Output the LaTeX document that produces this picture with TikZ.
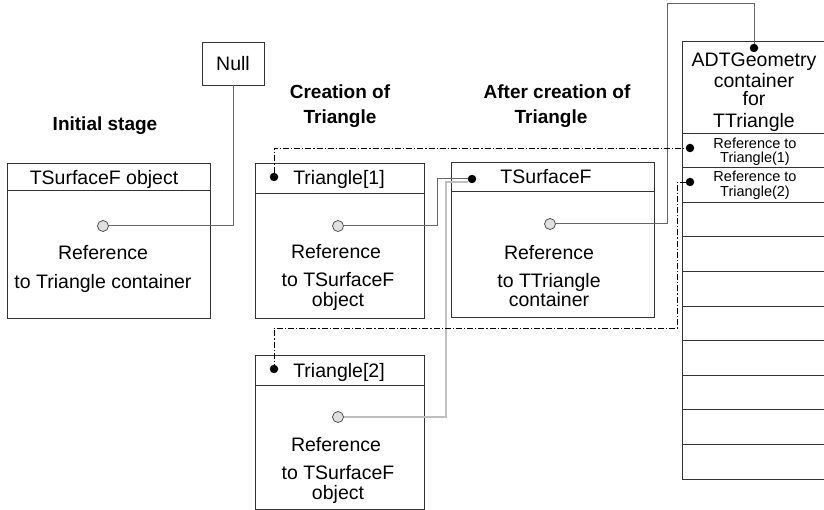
\documentclass[tikz,border=0pt]{standalone}
\usepackage{fontspec}
\setmainfont{Liberation Sans}
\usetikzlibrary{positioning}

\begin{document}
\begin{tikzpicture}[x=1pt,y=-1pt,
  bx/.style={draw=black!80,line width=0.9pt},
  tx/.style={font=\fontsize{19.5}{20}\selectfont,inner sep=0pt,anchor=base},
  hd/.style={font=\bfseries\fontsize{19}{20}\selectfont,inner sep=0pt,anchor=base},
  sm/.style={font=\fontsize{14.5}{15}\selectfont,inner sep=0pt,anchor=base},
  rf/.style={circle,draw=black!75,fill=black!12,minimum size=11pt,inner sep=0pt,line width=0.7pt},
  pt/.style={circle,fill=black,minimum size=8.5pt,inner sep=0pt},
  ln/.style={draw=black!60,line width=1pt},
  dd/.style={draw=black,line width=0.8pt,dash pattern=on 6pt off 2pt on 1.2pt off 2pt}]
\useasboundingbox (0,0) rectangle (824,510);
\clip (0,0) rectangle (824,510);
% headings
\node[hd] (h0) at (105,131) {Initial stage};
\node[hd] (h1a) at (340,99) {Creation of};
\node[hd] (h1b) at (340,124) {Triangle};
\node[hd] (h2a) at (557,99) {After creation of};
\node[hd] (h2b) at (551,124) {Triangle};
% boxes
\node[bx,tx,anchor=center,minimum width=62pt,minimum height=43pt] (null) at (233,63.5) {Null};
\node[bx,minimum width=203pt,minimum height=155pt,anchor=north west] (obj) at (7,163) {};
\node[bx,minimum width=169pt,minimum height=155pt,anchor=north west] (tri1) at (255,163) {};
\node[bx,minimum width=169pt,minimum height=154pt,anchor=north west] (tri2) at (255,355) {};
\node[bx,minimum width=203pt,minimum height=155pt,anchor=north west] (surf) at (451,162) {};
\node[bx,minimum width=150pt,minimum height=438pt,anchor=north west] (adt) at (682,41) {};
\draw[bx] ([yshift=-27pt]obj.north west) -- ([yshift=-27pt]obj.north east);
\draw[bx] ([yshift=-30pt]tri1.north west) -- ([yshift=-30pt]tri1.north east);
\draw[bx] ([yshift=-30pt]tri2.north west) -- ([yshift=-30pt]tri2.north east);
\draw[bx] ([yshift=-29pt]surf.north west) -- ([yshift=-29pt]surf.north east);
\foreach \i in {0,...,9}
  \draw[bx] ([yshift=-92pt-\i*34.6pt]adt.north west) -- ([yshift=-92pt-\i*34.6pt]adt.north east);
% texts
\node[tx] (obj1) at (104,185) {TSurfaceF object};
\node[tx] (obj2) at (103,260) {Reference};
\node[tx] (obj3) at (103,289) {to Triangle container};
\node[tx] (tri1a) at (339,185) {Triangle[1]};
\node[tx] (tri1b) at (336,259) {Reference};
\node[tx] (tri1c) at (338,287) {to TSurfaceF};
\node[tx] (tri1d) at (338,307) {object};
\node[tx] (tri2a) at (339,377) {Triangle[2]};
\node[tx] (tri2b) at (336,451) {Reference};
\node[tx] (tri2c) at (338,479) {to TSurfaceF};
\node[tx] (tri2d) at (338,499) {object};
\node[tx] (surf1) at (546,184) {TSurfaceF};
\node[tx] (surf2) at (549,260) {Reference};
\node[tx] (surf3) at (549,288) {to TTriangle};
\node[tx] (surf4) at (549,307) {container};
\node[tx] (adt1) at (754,67) {ADTGeometry};
\node[tx] (adt2) at (754,88) {container};
\node[tx] (adt3) at (754,106) {for};
\node[tx] (adt4) at (754,128) {TTriangle};
\node[sm] (row1a) at (755,149) {Reference to};
\node[sm] (row1b) at (755,163) {Triangle(1)};
\node[sm] (row2a) at (755,182) {Reference to};
\node[sm] (row2b) at (755,197) {Triangle(2)};
% references and pins
\node[rf] (c0) at (103,226) {};
\node[rf] (c1) at (338,226) {};
\node[rf] (c2) at (338,417) {};
\node[rf] (c3) at (550,224) {};
\node[pt] (d1) at (274,177) {};
\node[pt] (d2) at (274,369) {};
\node[pt] (d3) at (472,179) {};
\node[pt] (d4) at (754,48) {};
\node[pt] (r1) at (690,148) {};
\node[pt] (r2) at (690,182) {};
% links
\draw[ln] (c0.east) -| (null.south);
\draw[ln] (c1.east) -- ++(94,0) |- (d3.west);
\draw[ln,line width=0.6pt,double=black!25,double distance=1.4pt] (c2.east) -- ++(102,0) |- ([yshift=-3pt]d3.west);
\draw[ln] (c3.east) -- ++(112,0) -- ++(0,-220) -| (d4);
\draw[dd] (d1) |- (r1);
\draw[dd] (r2) -- ++(-13,0) -- ++(0,146) -| (d2);
\end{tikzpicture}
\end{document}
